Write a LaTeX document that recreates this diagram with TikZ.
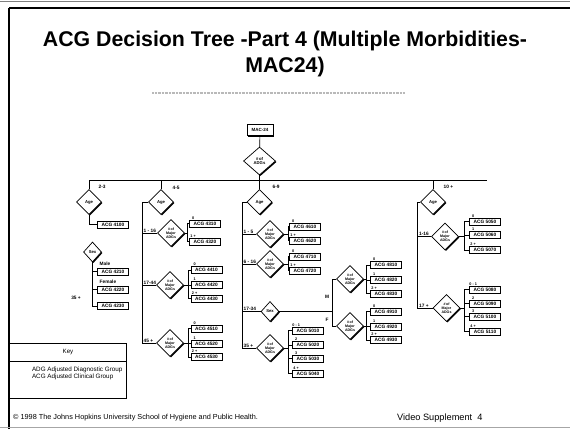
\documentclass[tikz,border=0pt]{standalone}
\usepackage{fontspec}
\setmainfont{Liberation Sans}
\usetikzlibrary{shapes.geometric,shadows}
\newcommand\mgrp[5]{% #1 name, #2 diamond pos, #3 bus x, #4 box centre x, #5 list y/code/label
  \node[dia,mj] (#1) at (#2) {\#\,of\\Major\\ADGs};
  \path (#3,0) coordinate (#1bx);
  \coordinate (#1bus) at (#1.east -| #1bx);
  \foreach \yy/\cc/\ll [count=\i] in {#5} {
    \node[acg] (#1x\i) at (#4,\yy) {ACG \cc};
    \draw[conn] (#1.east) -- (#1bus) |- (#1x\i.west);
    \node[tl] at ([xshift=4pt]#1x\i.north west) {\ll};
  }
}
\begin{document}
\begin{tikzpicture}[x=1pt,y=-1pt,
  conn/.style={line width=0.7pt},
  acg/.style={draw, line width=0.7pt, fill=white, minimum width=31pt, minimum height=7pt, inner sep=0pt,
    font=\fontsize{4.8}{4.8}\selectfont\bfseries,
    general shadow={shadow xshift=0.8pt, shadow yshift=-0.8pt, fill=black}},
  dia/.style={diamond, draw, line width=0.7pt, fill=white, inner sep=0pt, align=center,
    font=\fontsize{4.2}{4.6}\selectfont\bfseries,
    general shadow={shadow xshift=1pt, shadow yshift=-1pt, fill=black}},
  mj/.style={minimum width=27pt, minimum height=27pt, font=\fontsize{3.6}{4}\selectfont\bfseries},
  agd/.style={dia, minimum width=25pt, minimum height=25pt},
  sexd/.style={dia, minimum width=18pt, minimum height=20pt},
  lbl/.style={font=\fontsize{4.8}{5}\selectfont\bfseries, inner sep=0.5pt},
  tl/.style={font=\fontsize{3.8}{3.8}\selectfont\bfseries, inner sep=0.3pt, anchor=south},
]
\useasboundingbox (0,0) rectangle (570,429);
\fill[white] (0,0) rectangle (570,429);
% frame
\draw[gray, line width=1pt] (0,1.5) -- (570,1.5);
\draw[line width=1.2pt] (9,8) -- (570,8);
\draw[line width=1.4pt] (9,8) -- (9,429);
\draw[gray!70, line width=1pt] (0,427) -- (570,427);
% title
\node[font=\fontsize{21.3}{26}\selectfont\bfseries, align=center] (title) at (285,54)
  {ACG Decision Tree -Part 4 (Multiple Morbidities-\\MAC24)};
\draw[gray!55, line width=2.2pt, dash pattern=on 0.8pt off 0.6pt] (152,93) -- (405,93);
% root
\node[draw, line width=0.7pt, fill=white, minimum width=26pt, minimum height=11pt, inner sep=0pt,
  font=\fontsize{4.5}{4.5}\selectfont\bfseries,
  general shadow={shadow xshift=1.2pt, shadow yshift=-1.2pt, fill=black}] (mac) at (260,130) {MAC-24};
\node[dia, minimum width=32pt, minimum height=28pt] (adgs) at (259.5,161) {\#\,of\\ADGs};
\draw[conn] (mac) -- (adgs);
\coordinate (jA) at (89,180);
\coordinate (jB) at (161,180);
\coordinate (jC) at (259.5,180);
\coordinate (jD) at (433,180);
\coordinate (jE) at (487,180);
\draw[line width=1pt] (jA) -- (jE);
\draw[conn] (adgs.south) -- (jC);
% ===== 2-3 branch
\node[agd] (ageA) at (89,202) {Age};
\draw[conn] (jA) -- (ageA.north);
\node[lbl, anchor=west] at (98,187) {2-3};
\node[acg] (a0) at (113,224.5) {ACG 4100};
\draw[conn] (ageA.south) |- (a0.west);
\node[sexd] (sexA) at (92.5,252) {Sex};
\node[acg] (aM) at (113,271.5) {ACG 4210};
\node[acg] (aF) at (113,289.5) {ACG 4220};
\node[acg] (aO) at (113,306) {ACG 4230};
\draw[conn] (sexA.south) |- (aM.west);
\draw[conn] (sexA.south) |- (aF.west);
\draw[conn] (sexA.south) |- (aO.west);
\node[lbl, anchor=south west] at (99,266.5) {Male};
\node[lbl, anchor=south west] at (99,284.5) {Female};
\node[lbl] at (76,298) {35 +};
% ===== 4-5 branch
\node[agd] (ageB) at (161,202) {Age};
\draw[conn] (jB) -- (ageB.north);
\node[lbl, anchor=west] at (172,188) {4-5};
\coordinate (spB) at (142,202);
\draw[conn] (ageB.west) -- (spB);
\mgrp{b1}{171,233}{187}{205}{223.5/4310/0, 241.5/4320/1 +}
\mgrp{b2}{170,285}{188}{206.5}{270/4410/0, 285/4420/1, 298.5/4430/2 +}
\mgrp{b3}{170,343}{188}{206.5}{328.5/4510/0, 343.5/4520/1, 357/4530/2 +}
\draw[conn] (spB) |- (b1.west);
\draw[conn] (spB) |- (b2.west);
\draw[conn] (spB) |- (b3.west);
\node[lbl, anchor=south west] at (143,233) {1 - 16};
\node[lbl, anchor=south west] at (143,285) {17-44};
\node[lbl, anchor=south west] at (143,343) {45 +};
% ===== 6-9 branch
\node[agd] (ageC) at (259.5,202) {Age};
\draw[conn] (jC) -- (ageC.north);
\node[lbl, anchor=west] at (272,187) {6-9};
\coordinate (spC) at (242,202);
\draw[conn] (ageC.west) -- (spC);
\mgrp{c1}{270,234}{288}{305}{226.5/4610/0, 240.5/4620/1 +}
\mgrp{c2}{270,264}{288}{305}{256.5/4710/0, 270.5/4720/1 +}
\node[sexd] (sexC) at (270,311.5) {Sex};
\mgrp{c4}{270,348}{288}{308}{330.5/5010/0 - 1, 345/5020/2, 358.5/5030/3, 373.5/5040/4 +}
\draw[conn] (spC) |- (c1.west);
\draw[conn] (spC) |- (c2.west);
\draw[conn] (spC) |- (sexC.west);
\draw[conn] (spC) |- (c4.west);
\node[lbl, anchor=south west] at (243,234) {1 - 5};
\node[lbl, anchor=south west] at (243,264) {6 - 16};
\node[lbl, anchor=south west] at (243,311.5) {17-34};
\node[lbl, anchor=south west] at (243,348) {35 +};
\coordinate (mf) at (332,311.5);
\draw[conn] (sexC.east) -- (mf);
\mgrp{cm}{350,279}{366}{386}{265/4810/0, 280/4820/1, 293.5/4830/2 +}
\mgrp{cf}{350,326}{366}{386}{311.5/4910/0, 326.5/4920/1, 340/4930/2 +}
\draw[conn] (mf) |- (cm.west);
\draw[conn] (mf) |- (cf.west);
\node[lbl] at (327,297) {M};
\node[lbl] at (327,320) {F};
% ===== 10+ branch
\node[agd] (ageD) at (433,202) {Age};
\draw[conn] (jD) -- (ageD.north);
\node[lbl, anchor=west] at (443,187) {10 +};
\coordinate (spD) at (417.5,202);
\draw[conn] (ageD.west) -- (spD);
\mgrp{d1}{445,236.5}{464}{485}{221.5/5050/0, 235/5060/1, 250/5070/2 +}
\mgrp{d2}{446.5,308}{464}{485}{289.5/5080/0 - 1, 303.5/5090/2, 316.5/5100/3, 331.5/5110/4 +}
\draw[conn] (spD) |- (d1.west);
\draw[conn] (spD) |- (d2.west);
\node[lbl, anchor=south west] at (418.5,236.5) {1-16};
\node[lbl, anchor=south west] at (418.5,308) {17 +};
% ===== key
\node[draw, line width=0.8pt, minimum width=117pt, minimum height=55pt, inner sep=0pt] (key) at (67.5,370.5) {};
\draw[line width=0.6pt] (key.west |- 0,361) -- (key.east |- 0,361);
\node[font=\fontsize{6.2}{7}\selectfont] at (68,352) {Key};
\node[font=\fontsize{6.3}{6.4}\selectfont, align=left, anchor=north west] at (28.5,363.5)
  {ADG Adjusted Diagnostic Group\\ACG Adjusted Clinical Group};
% footer
\node[font=\fontsize{7.3}{8}\selectfont, anchor=west, inner sep=0pt] at (13,418)
  {\textcopyright{} 1998 The Johns Hopkins University School of Hygiene and Public Health.};
\node[font=\fontsize{9.2}{10}\selectfont, anchor=west, inner sep=0pt] at (397,418) {Video Supplement\ \ 4};
\end{tikzpicture}
\end{document}
